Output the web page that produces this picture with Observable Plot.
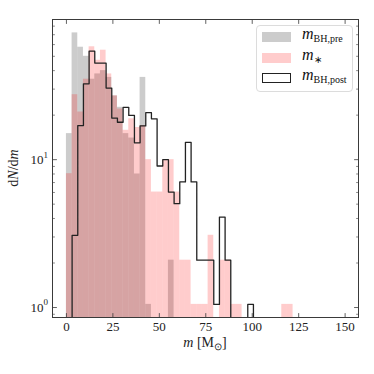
<!DOCTYPE html>
<html><head><meta charset="utf-8">
<script src="https://cdn.jsdelivr.net/npm/d3@7"></script>
<script src="https://cdn.jsdelivr.net/npm/@observablehq/plot@0.6"></script>
<style>
body{margin:0;background:#fff;}
#wrap{position:relative;width:374px;height:374px;font-family:"Liberation Serif",serif;}
.legend{position:absolute;left:256px;top:25px;width:97px;height:67px;border:1px solid #dcdcdc;border-radius:4px;background:rgba(255,255,255,0.85);box-sizing:border-box;}
.row{position:absolute;left:0;height:10px;width:100%;}
.sw{position:absolute;left:5px;top:0;width:29px;height:10px;box-sizing:border-box;}
.lab{position:absolute;left:45px;top:-6px;font-size:16px;line-height:16px;white-space:nowrap;color:#111;}
.lab sub{font-size:10px;font-style:normal;vertical-align:-3px;}
</style></head><body><div id="wrap"></div>
<script>
// histogram bins (M_sun)
const nBins = 40;
const binWidth = 3.05;
// dN/dm per bin
const mBHpre = [15, 72, 57.6, 50, 35, 38, 40, 36, 27, 22.6, 15, 14, 8, 36, 1.05, 0, 0, 0, 2.09, 0,
                0, 0, 0, 0, 0, 0, 0, 0, 0, 0, 0, 0, 0, 0, 0, 0, 0, 0, 0, 0];
const mStar  = [8.04, 27.5, 21, 35, 58, 47, 55, 38, 27, 22, 15.8, 18.9, 16.5, 17, 10, 6.04, 6.04, 10, 10, 6.04,
                2.09, 2.09, 1.05, 1.05, 1.05, 3.08, 0, 2.09, 2.09, 1.05, 1.05, 0, 0, 0, 0, 0, 0, 0, 1.05, 1.05];
const mBHpost = [0, 3.08, 17, 32.6, 54.2, 45, 45, 30.5, 19.1, 17.9, 22.6, 19.9, 13, 16.9, 20.8, 18.9, 9.06, 10, 6.04, 5.04,
                 7.07, 13.1, 7.07, 2.09, 2.09, 2.09, 1.05, 4.09, 2.09, 0, 0, 0, 1.05, 0, 0, 0, 0, 0, 0, 0];
const xTicks = [0, 25, 50, 75, 100, 125, 150];
const yMajor = [1, 10];
const yMinor = [0.9, 2, 3, 4, 5, 6, 7, 8, 9, 20, 30, 40, 50, 60, 70, 80];
const xDomain = [-7.5, 157.2];
const yDomain = [0.856, 88.7];

const edges = d3.range(nBins + 1).map(i => i * binWidth);
const bars = vals => vals.map((v, i) => ({x1: edges[i], x2: edges[i + 1], y1: yDomain[0], y2: v})).filter(d => d.y2 > 0);
const low = 0.3;
const step = [{x: edges[0], y: low}];
mBHpost.forEach((v, i) => { const vv = v > 0 ? v : low; step.push({x: edges[i], y: vv}, {x: edges[i + 1], y: vv}); });
step.push({x: edges[nBins], y: low});

const tickShape = {draw(ctx, l) { ctx.moveTo(0, 0); ctx.lineTo(0, -l); }};
const ink = "#3a3a3a";

const plot = Plot.plot({
  width: 374, height: 374,
  marginLeft: 52, marginRight: 16, marginTop: 19, marginBottom: 57,
  style: {fontFamily: "Liberation Serif, serif", fontSize: "13px", background: "white", color: "#222"},
  x: {domain: xDomain, axis: null},
  y: {type: "log", domain: yDomain, axis: null},
  marks: [
    Plot.rect(bars(mBHpre), {x1: "x1", x2: "x2", y1: "y1", y2: "y2", fill: "rgb(128,128,128)", fillOpacity: 0.4, inset: 0, clip: true}),
    Plot.rect(bars(mStar), {x1: "x1", x2: "x2", y1: "y1", y2: "y2", fill: "rgb(255,0,0)", fillOpacity: 0.2, inset: 0, clip: true}),
    Plot.line(step, {x: "x", y: "y", stroke: "#222", strokeWidth: 1.3, clip: true}),
    Plot.frame({stroke: ink, strokeWidth: 1}),
    // ticks (inward)
    Plot.vector(xTicks, {x: d => d, frameAnchor: "bottom", rotate: 0, length: 4, anchor: "start", shape: tickShape, stroke: ink, strokeWidth: 0.8}),
    Plot.vector(xTicks, {x: d => d, frameAnchor: "top", rotate: 180, length: 4, anchor: "start", shape: tickShape, stroke: ink, strokeWidth: 0.8}),
    Plot.vector(yMajor, {y: d => d, frameAnchor: "left", rotate: 90, length: 4, anchor: "start", shape: tickShape, stroke: ink, strokeWidth: 0.8}),
    Plot.vector(yMajor, {y: d => d, frameAnchor: "right", rotate: -90, length: 4, anchor: "start", shape: tickShape, stroke: ink, strokeWidth: 0.8}),
    Plot.vector(yMinor, {y: d => d, frameAnchor: "left", rotate: 90, length: 2, anchor: "start", shape: tickShape, stroke: ink, strokeWidth: 0.6}),
    Plot.vector(yMinor, {y: d => d, frameAnchor: "right", rotate: -90, length: 2, anchor: "start", shape: tickShape, stroke: ink, strokeWidth: 0.6}),
    // tick labels
    Plot.text(xTicks, {x: d => d, frameAnchor: "bottom", lineAnchor: "top", dy: 4, text: d => String(d), fill: "#222", fontSize: 13}),
    Plot.text(yMajor, {y: d => d, frameAnchor: "left", textAnchor: "end", dx: -9, text: d => "10", fill: "#222", fontSize: 13}),
    Plot.text(yMajor, {y: d => d, frameAnchor: "left", textAnchor: "start", dx: -9, dy: -5, text: d => String(Math.round(Math.log10(d))), fill: "#222", fontSize: 9})
  ]
});

const wrap = document.getElementById("wrap");
wrap.appendChild(plot);
const svg = d3.select(plot);
// x label
const xl = svg.append("text").attr("x", 205).attr("y", 347).attr("text-anchor", "middle")
  .attr("font-size", 14).attr("fill", "#222").attr("font-family", "Liberation Serif, serif");
xl.append("tspan").attr("font-style", "italic").text("m");
xl.append("tspan").text(" [M");
xl.append("tspan").attr("font-size", 10).attr("dy", 3).text("⊙");
xl.append("tspan").attr("dy", -3).text("]");
// y label
const yl = svg.append("text").attr("transform", "translate(18,168) rotate(-90)").attr("text-anchor", "middle")
  .attr("font-size", 14).attr("fill", "#222").attr("font-family", "Liberation Serif, serif");
yl.append("tspan").text("d");
yl.append("tspan").attr("font-style", "italic").text("N");
yl.append("tspan").text("/d");
yl.append("tspan").attr("font-style", "italic").text("m");

// legend
const leg = document.createElement("div");
leg.className = "legend";
leg.innerHTML = `
<div class="row" style="top:6px"><span class="sw" style="background:rgba(128,128,128,0.4)"></span><span class="lab"><i>m</i><sub>BH,pre</sub></span></div>
<div class="row" style="top:27px"><span class="sw" style="background:rgba(255,0,0,0.2)"></span><span class="lab"><i>m</i><sub>∗</sub></span></div>
<div class="row" style="top:47px"><span class="sw" style="background:#fff;border:1.3px solid #222"></span><span class="lab"><i>m</i><sub>BH,post</sub></span></div>`;
wrap.appendChild(leg);
</script>
</body></html>
